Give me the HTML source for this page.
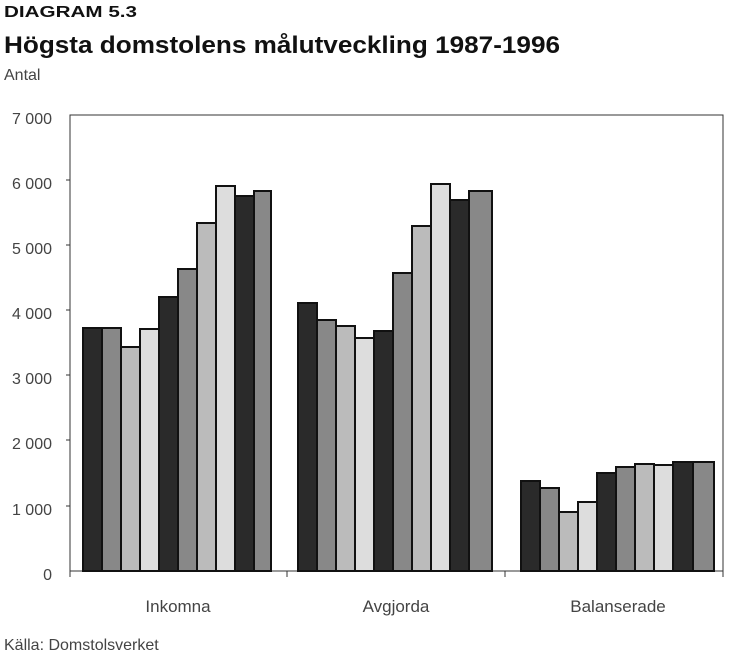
<!DOCTYPE html><html><head><style>body{margin:0;background:#fff;width:731px;height:653px;overflow:hidden;font-family:"Liberation Sans",sans-serif}</style></head><body>
<svg width="731" height="653" xmlns="http://www.w3.org/2000/svg" font-family="Liberation Sans, sans-serif">
<text x="4" y="17" font-size="16" font-weight="bold" fill="#111" textLength="133" lengthAdjust="spacingAndGlyphs">DIAGRAM 5.3</text>
<text x="4" y="53" font-size="24" font-weight="bold" fill="#111" textLength="556" lengthAdjust="spacingAndGlyphs">Högsta domstolens målutveckling 1987-1996</text>
<text x="4" y="80" font-size="16" fill="#444">Antal</text>
<rect x="70" y="115" width="653" height="456" fill="none" stroke="#333" stroke-width="1"/>
<g font-size="16" fill="#444" text-anchor="end">
<text x="52" y="124">7 000</text><text x="52" y="189">6 000</text><text x="52" y="254">5 000</text><text x="52" y="319">4 000</text><text x="52" y="384">3 000</text><text x="52" y="449">2 000</text><text x="52" y="515">1 000</text><text x="52" y="580">0</text>
</g>
<g stroke="#333"><line x1="66" x2="70" y1="180" y2="180"/><line x1="66" x2="70" y1="245" y2="245"/><line x1="66" x2="70" y1="310" y2="310"/><line x1="66" x2="70" y1="375" y2="375"/><line x1="66" x2="70" y1="440" y2="440"/><line x1="66" x2="70" y1="506" y2="506"/>
<line x1="70" x2="70" y1="571" y2="577"/><line x1="287" x2="287" y1="571" y2="577"/><line x1="505" x2="505" y1="571" y2="577"/><line x1="723" x2="723" y1="571" y2="577"/></g>
<g stroke="#111" stroke-width="2">
<rect x="83" y="328" width="19" height="243" fill="#2a2a2a"/>
<rect x="102" y="328" width="19" height="243" fill="#888"/>
<rect x="121" y="347" width="19" height="224" fill="#bbb"/>
<rect x="140" y="329" width="19" height="242" fill="#ddd"/>
<rect x="159" y="297" width="19" height="274" fill="#2a2a2a"/>
<rect x="178" y="269" width="19" height="302" fill="#888"/>
<rect x="197" y="223" width="19" height="348" fill="#bbb"/>
<rect x="216" y="186" width="19" height="385" fill="#ddd"/>
<rect x="235" y="196" width="19" height="375" fill="#2a2a2a"/>
<rect x="254" y="191" width="17" height="380" fill="#888"/>

<rect x="298" y="303" width="19" height="268" fill="#2a2a2a"/>
<rect x="317" y="320" width="19" height="251" fill="#888"/>
<rect x="336" y="326" width="19" height="245" fill="#bbb"/>
<rect x="355" y="338" width="19" height="233" fill="#ddd"/>
<rect x="374" y="331" width="19" height="240" fill="#2a2a2a"/>
<rect x="393" y="273" width="19" height="298" fill="#888"/>
<rect x="412" y="226" width="19" height="345" fill="#bbb"/>
<rect x="431" y="184" width="19" height="387" fill="#ddd"/>
<rect x="450" y="200" width="19" height="371" fill="#2a2a2a"/>
<rect x="469" y="191" width="23" height="380" fill="#888"/>

<rect x="521" y="481" width="19" height="90" fill="#2a2a2a"/>
<rect x="540" y="488" width="19" height="83" fill="#888"/>
<rect x="559" y="512" width="19" height="59" fill="#bbb"/>
<rect x="578" y="502" width="19" height="69" fill="#ddd"/>
<rect x="597" y="473" width="19" height="98" fill="#2a2a2a"/>
<rect x="616" y="467" width="19" height="104" fill="#888"/>
<rect x="635" y="464" width="19" height="107" fill="#bbb"/>
<rect x="654" y="465" width="19" height="106" fill="#ddd"/>
<rect x="673" y="462" width="20" height="109" fill="#2a2a2a"/>
<rect x="693" y="462" width="21" height="109" fill="#888"/>
</g>
<g font-size="17" fill="#444" text-anchor="middle">
<text x="178" y="612">Inkomna</text><text x="396" y="612">Avgjorda</text><text x="618" y="612">Balanserade</text>
</g>
<text x="4" y="650" font-size="16" fill="#444">Källa: Domstolsverket</text>
</svg></body></html>
